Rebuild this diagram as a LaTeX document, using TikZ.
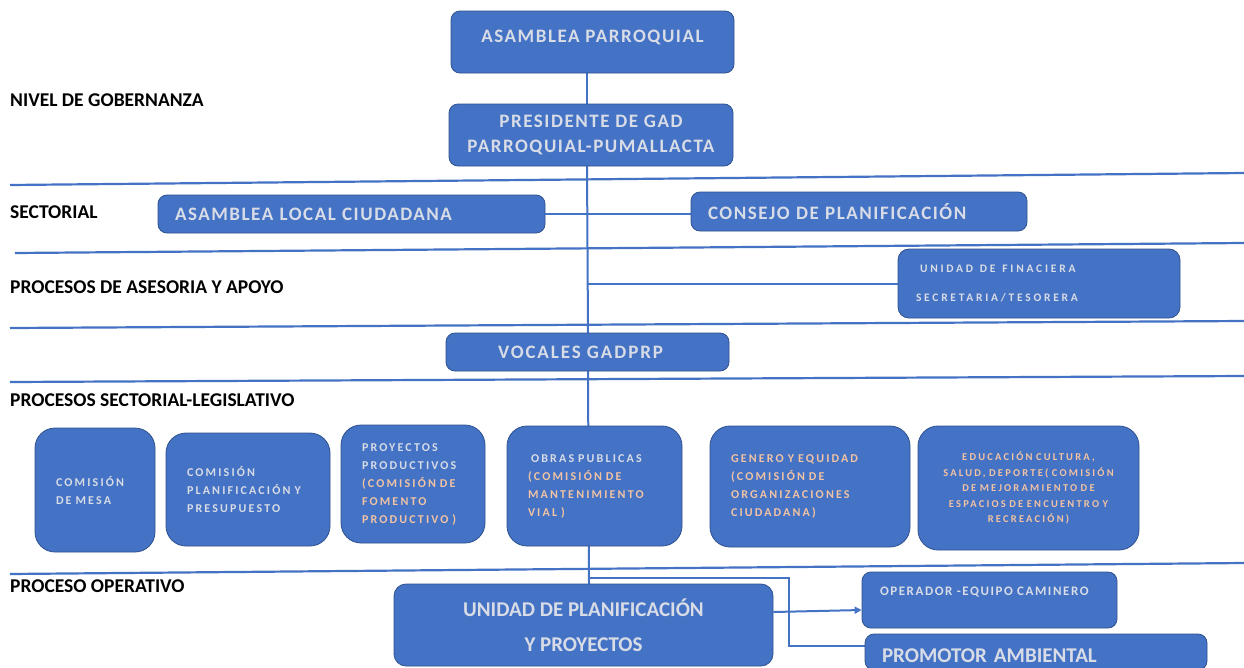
\documentclass[tikz,border=0pt]{standalone}
\usepackage{fontspec}
\setmainfont{Carlito}
\newfontfamily\bigfont[LetterSpace=8]{Carlito}
\newfontfamily\smallfont[LetterSpace=18]{Carlito}
\usetikzlibrary{arrows.meta}
\definecolor{boxblue}{HTML}{4472C4}
\definecolor{edgeblue}{HTML}{2F528F}
\definecolor{txtgray}{HTML}{D8DCE6}
\definecolor{txtpeach}{HTML}{F2C3A4}
\newcommand{\pch}[1]{\textcolor{txtpeach}{#1}}

\begin{document}
\begin{tikzpicture}[x=1pt,y=-1pt]
  \tikzstyle{every node}=[inner sep=0pt]
  \tikzstyle{unit}=[draw=edgeblue,fill=boxblue,line width=0.8pt,rounded corners=9pt,text=txtgray,font=\bigfont\bfseries\fontsize{19}{25}\selectfont]
  \tikzstyle{comision}=[unit,rounded corners=20pt,font=\smallfont\bfseries\fontsize{12}{18}\selectfont,align=left,inner xsep=21pt]
  \tikzstyle{level}=[anchor=base west,font=\bfseries\fontsize{19.5}{22}\selectfont]
  \tikzstyle{band}=[boxblue,line width=2.2pt]
  \tikzstyle{link}=[boxblue,line width=2pt]

  \useasboundingbox (0,0) rectangle (1244,667);
  \clip (0,0) rectangle (1244,667);
  \fill[white] (0,0) rectangle (1244,667);

  \draw[band] (10,185) -- (1244,173);
  \draw[band] (15,253) -- (1244,243);
  \draw[band] (10,328) -- (1244,321);
  \draw[band] (10,382) -- (1244,376);
  \draw[band] (10,574) -- (1244,563);

  \node[level] (lvlgob) at (10,106) {NIVEL DE GOBERNANZA};
  \node[level] (lvlsect) at (10,218) {SECTORIAL};
  \node[level] (lvlases) at (10,293) {PROCESOS DE ASESORIA Y APOYO};
  \node[level] (lvlleg) at (10,406) {PROCESOS SECTORIAL-LEGISLATIVO};
  \node[level] (lvloper) at (10,592) {PROCESO OPERATIVO};

  \coordinate (spine) at (587,0);
  \coordinate (fork) at (589,578);
  \coordinate (elbow) at (789,578);

  \draw[link] (587,73) -- (587,104);
  \draw[link] (587,166) -- (588,333);
  \draw[link] (588,371) -- (589,584);
  \draw[link] (fork) -- (elbow) -- (789,646) -- (865,646);

  \node[unit,minimum width=283pt,minimum height=62pt,text height=12pt,text depth=12pt] (asamblea) at (592.5,42) {ASAMBLEA PARROQUIAL};
  \node[unit,minimum width=284pt,minimum height=62pt,align=center] (presidente) at (591,135) {PRESIDENTE DE GAD\\PARROQUIAL-PUMALLACTA};

  \node[unit,minimum width=387pt,minimum height=38pt,text width=353pt,inner xsep=17pt,align=left] (localciud) at (351.5,214) {ASAMBLEA LOCAL CIUDADANA};
  \node[unit,minimum width=336pt,minimum height=39pt,text width=302pt,inner xsep=17pt,align=left] (consejo) at (859,211.5) {CONSEJO DE PLANIFICACIÓN};
  \draw[link] (localciud.east) -- (localciud.east -| consejo.west);

  \node[unit,font=\smallfont\bfseries\fontsize{11.5}{29}\selectfont\addfontfeature{LetterSpace=24},minimum width=282pt,minimum height=69pt,text width=246pt,inner xsep=18pt,align=left,rounded corners=11pt] (finan) at (1039,283.5) {\hspace{4pt}UNIDAD\hspace{3pt} DE\hspace{3pt} FINACIERA\\SECRETARIA/TESORERA};
  \draw[link] (spine |- finan.west) -- (finan.west);

  \node[unit,minimum width=283pt,minimum height=38pt,font=\bigfont\bfseries\fontsize{19}{25}\selectfont\addfontfeature{LetterSpace=10}] (vocales) at (587.5,352) {VOCALES GADPRP\hspace*{14pt}};

  \node[comision,minimum width=120pt,minimum height=124pt,text width=78pt] (mesa) at (95,490) {COMISIÓN\\DE MESA};
  \node[comision,minimum width=164pt,minimum height=113pt,text width=122pt] (planpres) at (248,489.5) {COMISIÓN\\PLANIFICACIÓN Y\\PRESUPUESTO};
  \node[comision,minimum width=144pt,minimum height=118pt,text width=102pt] (proyectos) at (413,484) {PROYECTOS\\PRODUCTIVOS\\\pch{(COMISIÓN DE}\\\pch{FOMENTO}\\\pch{PRODUCTIVO )}};
  \node[comision,minimum width=175pt,minimum height=120pt,text width=133pt] (obras) at (594.5,486) {\hspace{3pt}OBRAS PUBLICAS\\\pch{(COMISIÓN DE}\\\pch{MANTENIMIENTO}\\\pch{VIAL )}};
  \node[comision,minimum width=200pt,minimum height=121pt,text width=158pt,text=txtpeach] (genero) at (810,486.5) {GENERO Y EQUIDAD\\(COMISIÓN DE\\ORGANIZACIONES\\CIUDADANA)};
  \node[comision,minimum width=221pt,minimum height=124pt,text width=201pt,inner xsep=10pt,align=center,text=txtpeach,font=\smallfont\bfseries\fontsize{10.5}{15.5}\selectfont\addfontfeature{LetterSpace=21}] (educacion) at (1028.5,488) {EDUCACIÓN CULTURA,\\SALUD, DEPORTE( COMISIÓN\\DE MEJORAMIENTO DE\\ESPACIOS DE ENCUENTRO Y\\RECREACIÓN)};

  \node[unit,font=\bfseries\fontsize{21}{35}\selectfont,minimum width=379pt,minimum height=82pt,align=center,rounded corners=12pt] (unidadplan) at (583.5,625) {UNIDAD DE PLANIFICACIÓN\\Y PROYECTOS};
  \node[unit,font=\bfseries\fontsize{13}{15}\selectfont\addfontfeature{LetterSpace=12},minimum width=255pt,minimum height=56pt,text width=219pt,inner xsep=18pt,align=left,text height=8pt,text depth=17pt] (operador) at (989.5,600) {OPERADOR -EQUIPO CAMINERO};
  \node[unit,font=\bfseries\fontsize{21}{24}\selectfont,minimum width=342pt,minimum height=36pt,text width=308pt,inner xsep=17pt,align=left,text height=20pt,text depth=0pt] (promotor) at (1036,652) {PROMOTOR AMBIENTAL};

  \draw[link,-{Triangle[length=7pt,width=7pt]}] ([yshift=13pt]unidadplan.east) -- ([yshift=-10pt]operador.west);
\end{tikzpicture}
\end{document}
